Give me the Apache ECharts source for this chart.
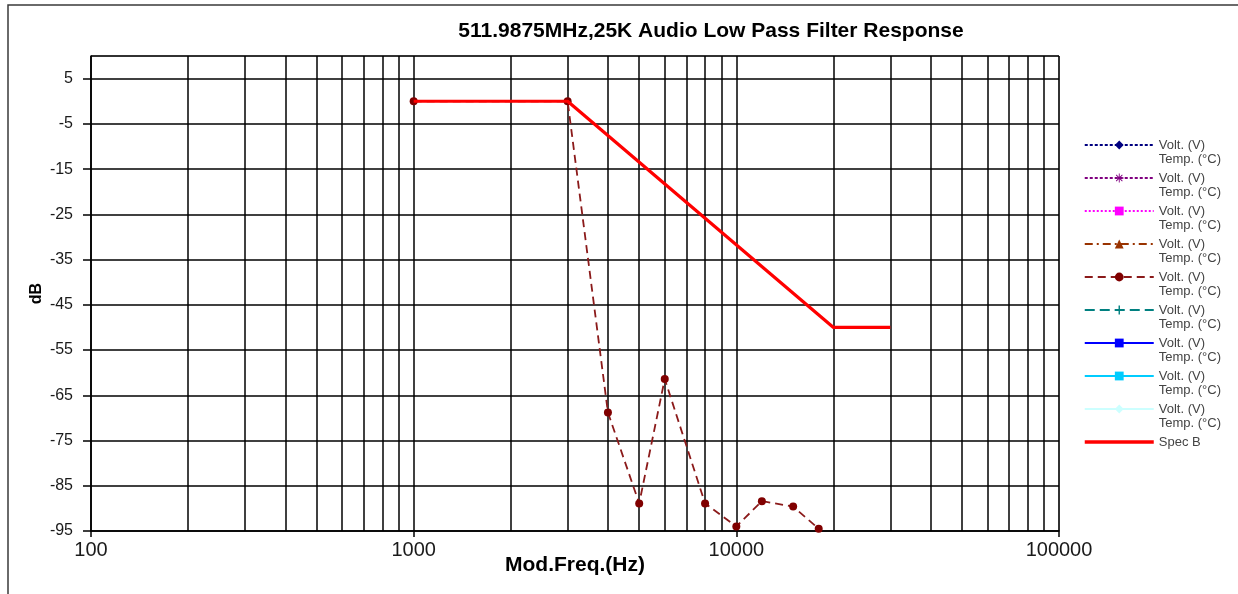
<!DOCTYPE html>
<html>
<head>
<meta charset="utf-8">
<script src="https://cdn.jsdelivr.net/npm/echarts@6/dist/echarts.min.js"></script>
<style>
html,body{margin:0;padding:0;background:#fff;}
#chart{width:1238px;height:594px;}
</style>
</head>
<body>
<div id="chart"></div>
<script>
// ---- data ----
const titleText = '511.9875MHz,25K Audio Low Pass Filter Response';
const xAxisName = 'Mod.Freq.(Hz)';
const yAxisName = 'dB';
const xTickValues = [100, 1000, 10000, 100000];
const yTickValues = [-95, -85, -75, -65, -55, -45, -35, -25, -15, -5, 5];
const minorGridFreqs = [];
[100, 1000, 10000].forEach(function (d) { for (let k = 2; k <= 9; k++) minorGridFreqs.push(d * k); });

const measFreq = [1000, 3000, 4000, 5000, 6000, 8000, 10000, 12000, 15000, 18000];
const measDb   = [0, 0, -68.8, -88.9, -61.4, -88.9, -94.0, -88.4, -89.6, -94.5];

const specFreq = [1000, 3000, 20000, 30000];
const specDb   = [0, 0, -50, -50];

const legendNames = ['V1', 'V2', 'V3', 'V4', 'V5', 'V6', 'V7', 'V8', 'V9', 'Spec B'];
const voltLabel = 'Volt. (V)\nTemp. (°C)';
const specLabel = 'Spec B';

function pairs(xs, ys) { return xs.map(function (x, i) { return [x, ys[i]]; }); }

const FONT = '"Liberation Sans", Arial, sans-serif';
const asterisk = 'path://M4.5,0h1v10h-1z M0,4.5h10v1h-10z M1.1,1.8l0.7,-0.7l7.1,7.1l-0.7,0.7z M8.2,1.1l0.7,0.7l-7.1,7.1l-0.7,-0.7z';
const plus = 'path://M4.2,0h1.6v10h-1.6z M0,4.2h10v1.6h-10z';

function emptySeries(name, color, type, symbol, width) {
  return {
    name: name, type: 'line', data: [], color: color,
    symbol: symbol, symbolSize: 8,
    lineStyle: { color: color, type: type, width: width || 1.5 },
    itemStyle: { color: color }
  };
}

const chart = echarts.init(document.getElementById('chart'), null, { renderer: 'canvas' });
chart.setOption({
  animation: false,
  backgroundColor: '#fff',
  textStyle: { fontFamily: FONT },
  graphic: [{
    type: 'rect', z: 100, silent: true,
    shape: { x: 8, y: 5, width: 1260, height: 620 },
    style: { fill: 'none', stroke: '#3a3a3a', lineWidth: 1.5 }
  }],
  title: {
    text: titleText, left: 711, top: 21, textAlign: 'center', padding: 0,
    textStyle: { fontFamily: FONT, fontSize: 21, fontWeight: 'bold', color: '#000' }
  },
  grid: {
    left: 91, right: 179, top: 56, bottom: 63,
    show: true, borderColor: '#8a8a8a', borderWidth: 1, backgroundColor: 'transparent'
  },
  legend: {
    data: legendNames.map(function (n) {
      return n === 'Spec B'
        ? { name: n, itemStyle: { opacity: 0 }, lineStyle: { width: 3.5 } }
        : { name: n };
    }),
    orient: 'vertical', left: 1083, top: 124, padding: 0,
    itemWidth: 69, itemHeight: 11, itemGap: -9,
    formatter: function (n) { return n === 'Spec B' ? '\n' + specLabel + '\n ' : '\n' + voltLabel; },
    textStyle: { fontFamily: FONT, fontSize: 13, lineHeight: 14, color: '#444' },
    selectedMode: false
  },
  xAxis: {
    type: 'log', logBase: 10, min: 100, max: 100000,
    name: xAxisName, nameLocation: 'middle', nameGap: 24, nameMoveOverlap: false,
    nameTextStyle: { fontFamily: FONT, fontSize: 21, fontWeight: 'bold', color: '#000' },
    axisLine: { show: true, onZero: false, lineStyle: { color: '#000', width: 1.5 } },
    axisTick: { show: true, length: 6, lineStyle: { color: '#000', width: 1.5 } },
    axisLabel: {
      margin: 9, fontSize: 20, color: '#1a1a1a', fontFamily: FONT,
      formatter: function (v) { return String(Math.round(v)); }
    },
    splitLine: { show: true, lineStyle: { color: '#000', width: 1.5 } },
    minorTick: { show: false }, minorSplitLine: { show: false }
  },
  yAxis: {
    type: 'value', min: -95, max: 10, interval: 10,
    name: yAxisName, nameLocation: 'middle', nameGap: 46, nameRotate: 90, nameMoveOverlap: false,
    nameTextStyle: { fontFamily: FONT, fontSize: 16, fontWeight: 'bold', color: '#000' },
    axisLine: { show: true, onZero: false, lineStyle: { color: '#000', width: 1.5 } },
    axisTick: { show: true, length: 8, lineStyle: { color: '#000', width: 1.5 } },
    axisLabel: { margin: 18, fontSize: 16, color: '#1a1a1a', fontFamily: FONT, showMaxLabel: false },
    splitLine: { show: true, lineStyle: { color: '#000', width: 1.5 } }
  },
  series: [
    emptySeries('V1', '#000080', [3, 2], 'diamond'),
    emptySeries('V2', '#800080', [3, 2], asterisk),
    emptySeries('V3', '#FF00FF', [2, 2], 'rect'),
    emptySeries('V4', '#993300', [8, 4, 2, 4], 'triangle'),
    {
      name: 'V5', type: 'line', z: 3,
      data: pairs(measFreq, measDb),
      color: '#800000',
      symbol: 'circle', symbolSize: 8, showSymbol: true,
      lineStyle: { color: '#8b1a1a', type: [8, 5], width: 1.8 },
      itemStyle: { color: '#800000' }
    },
    emptySeries('V6', '#008080', [10, 5], plus),
    emptySeries('V7', '#0000FF', 'solid', 'rect'),
    emptySeries('V8', '#00CCFF', 'solid', 'rect'),
    emptySeries('V9', '#CCFFFF', 'solid', 'diamond'),
    {
      name: 'Spec B', type: 'line', z: 4,
      data: pairs(specFreq, specDb),
      color: '#FF0000', symbol: 'none',
      lineStyle: { color: '#FF0000', width: 3.2 },
      itemStyle: { color: '#FF0000' }
    },
    {
      name: 'gridlines', type: 'line', data: [], silent: true, z: 1,
      markLine: {
        silent: true, z: 1, symbol: ['none', 'none'], animation: false,
        label: { show: false },
        lineStyle: { color: '#000', width: 1.5, type: 'solid' },
        emphasis: { disabled: true },
        data: minorGridFreqs.map(function (f) { return { xAxis: f }; })
      }
    }
  ]
});
</script>
</body>
</html>
